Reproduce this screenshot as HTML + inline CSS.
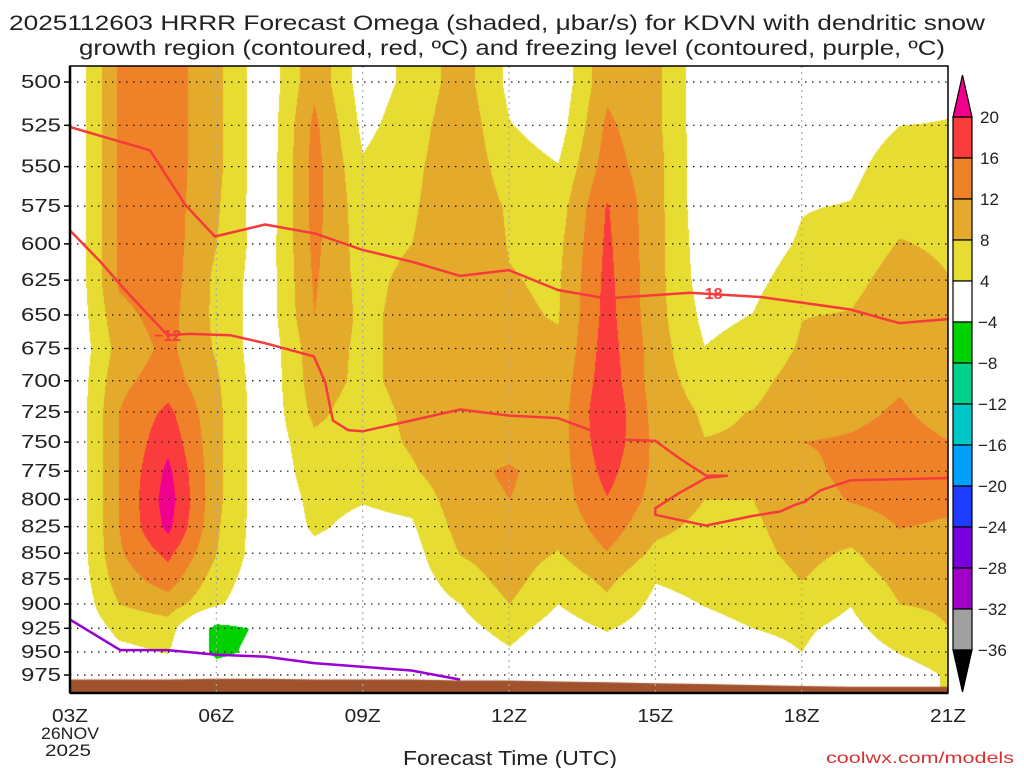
<!DOCTYPE html>
<html><head><meta charset="utf-8"><style>
html,body{margin:0;padding:0;background:#fff;}
#wrap{position:relative;width:1024px;height:768px;overflow:hidden;}
canvas,svg{position:absolute;left:0;top:0;}
text{font-family:"Liberation Sans",sans-serif;fill:#222;}
</style></head><body>
<div id="wrap">
<canvas id="cv" width="1024" height="768"></canvas>
<svg id="sv" width="1024" height="768"></svg>
</div>
<script>
// ---- data ----
const hours = [3,4,5,6,7,8,9,10,11,12,13,14,15,16,17,18,19,20,21];
const levels = [500,525,550,575,600,625,650,675,700,725,750,775,800,825,850,875,900,925,950,975];
const omega3 = [0,0,0,0,0,0,0,0,0,0,0,0,0,0,0,0,0,0,0,0];
const omega4 = [12.5,12.5,12.5,12.5,12.5,12.5,11,9.5,11,12,12,12,12,12,11.5,10,8,5,3,1];
const omega5 = [14,14,14,14,14,14,13.5,13,14,17,19,21,22,21,17,14,10,6,4.2,1];
const omega6 = [9,9,9,8.5,8,7,7,7.5,8.5,9,9,9,9,8.5,8,6,4.5,-6,-5.5,0];
const omega7 = [1,1,1,1,1.5,1.5,1.5,1,1,1,1,1,1,1,1,1,1,-3,-2,0];
const omega8 = [11,13,13.5,13.5,13,12.5,12,10.5,10,9,7,6,5,4.5,3,2,1,0,0,0];
const omega9 = [2,3,4.5,5.5,6,6.5,7,7,7,6,6,5.5,4.2,3,2,1,0.5,0,0,0];
const omega10 = [5,6,7,7.5,8,9.3,9.5,9.5,9.5,9,8.5,7.5,5,3.5,2.5,2,1.5,1,0,0];
const omega11 = [10,11,11,11,11,11,11,11,11,11,11,11,10.5,9.5,8.2,6,4,2.5,1,0];
const omega12 = [3,4.2,6,7.5,7.8,8.2,8.5,9,10,10,10.5,12.5,12,10,10,9.5,8,5.5,3.5,1];
const omega13 = [1,2,4.2,6,7,7.5,7.8,8.5,9.5,10,10,10,10,9,7.8,5.5,4,2,0,0];
const omega14 = [11,12.8,14,16.3,16.8,17.2,17.5,18,18.5,19.5,19,17.5,15.8,14,11.8,9,7,4.3,2,0];
const omega15 = [9,9,9.5,9.5,9.5,9.5,9.5,10,10,10.5,11,11,10.5,9,7,4.2,3,2,1,0];
const omega16 = [1,1,1,1,1.5,2,3,4.1,6,7.5,8.1,8.3,8,7,6,5,4.1,3,1,0];
const omega17 = [1,1,1,1.5,2,3,4.1,5.5,7,8.1,8.3,8.3,8,7.5,7,6,5,4,3,1];
const omega18 = [1,1,2,3.8,4.5,6,7.9,8.5,9.5,10,12,11,10,9.5,9,8.1,6,4.5,4,2];
const omega19 = [1,2,3,4.2,6,7,8.2,9.5,10.5,11,12.5,13,12.3,9.5,7.5,6,4.1,3,2,1];
const omega20 = [2,4,6,7,8.2,9.5,10.5,10.5,11.5,12.5,13.5,13.5,13.5,12.1,10.5,9,8,6,4.1,3];
const omega21 = [3,4.2,6,7,7.5,8.1,9,10,10,10.5,12.1,13,12.8,11.5,10,9,8.5,8,5,4.2];
const omegaCols = [omega3,omega4,omega5,omega6,omega7,omega8,omega9,omega10,omega11,omega12,omega13,omega14,omega15,omega16,omega17,omega18,omega19,omega20,omega21];
const surfacePres = [980,980,980,979,979,980,980,980,981,981,982,983,984,985,986,987,988,988,988];
// contour lines (hour, hPa)
const dgzUpperH = [3,4.64,5.09,5.36,5.97,7.0,8.02,8.99,9.99,11.0,12.0,13.0,13.99,15.71,17.15,18.0,19.0,20.0,21];
const dgzUpperP = [526,540,561,574,595,587,593,604,612,622,618,632,638,634,637,641,646,656,653];
const dgzLowerH = [3,3.62,4.13,4.74,5.0,5.46,6.28,7.0,8.0,8.23,8.39,8.7,9.0,10,11,12,13,13.66,14.38,15,15.5,16.04,16.47,16.04,15.5,15,15,16.04,17,17.56,17.86,18.07,18.38,19,20,21];
const dgzLowerP = [591,612,632,655,665,664,665,671,681,701,732,740,741,732,723,728,730,740,748,749,764,779,779,781,794,808,814,824,815,811,805,802,792,783,782,781];
const frzH = [3,4.03,5,6,7,8,10,11];
const frzP = [916,948,948,953,955,962,970,980];
const cbLevels = [20,16,12,8,4,-4,-8,-12,-16,-20,-24,-28,-32,-36];
const cbColors = ['#fa3c3c','#ef8228','#e3aa2c','#e6dc32','#ffffff','#00d200','#00d28c','#00c8c8','#00a0ff','#1e3cff','#7800dc','#a000c8','#a0a0a0'];
const pTicks = [500,525,550,575,600,625,650,675,700,725,750,775,800,825,850,875,900,925,950,975];
const xTickHours = [3,6,9,12,15,18,21];
const xTickLabels = ['03Z','06Z','09Z','12Z','15Z','18Z','21Z'];

// ---- axes ----
const X0=70, X1=948, Y0=66, Y1=693;
function xOf(h){return 70+(h-3)*(878/18);}
function yOf(p){return 82+888*Math.log(p/500);}
function hOf(x){return 3+(x-70)*18/878;}
function pOf(y){return 500*Math.exp((y-82)/888);}
function colorOf(v){
  if(v>=20) return [240,0,140];
  if(v>=16) return [250,60,60];
  if(v>=12) return [239,130,40];
  if(v>=8) return [227,170,44];
  if(v>=4) return [230,220,50];
  if(v>-4) return null;
  if(v>-8) return [0,210,0];
  return [0,210,140];
}
function valAt(h,p){
  let ci=Math.max(0,Math.min(17.9999,h-3)); let c0=Math.floor(ci), fc=ci-c0;
  let ri=Math.max(0,Math.min(18.9999,(p-500)/25)); let r0=Math.floor(ri), fr=ri-r0;
  const a=omegaCols[c0][r0], b=omegaCols[c0+1][r0], c=omegaCols[c0][r0+1], d=omegaCols[c0+1][r0+1];
  return (a*(1-fc)+b*fc)*(1-fr)+(c*(1-fc)+d*fc)*fr;
}
// ---- shading ----
const cv=document.getElementById('cv'), ctx=cv.getContext('2d');
const img=ctx.createImageData(1024,768);
for(let y=Y0;y<Y1;y++){const p=pOf(y);
  for(let x=X0;x<X1;x++){const c=colorOf(valAt(hOf(x),p)); if(!c) continue;
    const k=(y*1024+x)*4; img.data[k]=c[0];img.data[k+1]=c[1];img.data[k+2]=c[2];img.data[k+3]=255;}}
ctx.putImageData(img,0,0);
// ground
ctx.fillStyle='#a0522d';ctx.beginPath();ctx.moveTo(X0,Y1);
for(let i=0;i<hours.length;i++) ctx.lineTo(xOf(hours[i]),Math.min(Y1,yOf(surfacePres[i])));
ctx.lineTo(X1,Y1);ctx.closePath();ctx.fill();

// ---- svg overlay ----
const NS='http://www.w3.org/2000/svg', sv=document.getElementById('sv');
function mk(tag,attrs,parent){const e=document.createElementNS(NS,tag);for(const k in attrs)e.setAttribute(k,attrs[k]);(parent||sv).appendChild(e);return e;}
// grid
for(const p of pTicks){const y=yOf(p);
  const l=mk('line',{x1:X0,x2:X1,y1:y,y2:y,stroke:'#111','stroke-width':1.2,'stroke-dasharray':'1.5 5.5'});
  
  
  const t=mk('line',{x1:X0-6,x2:X0,y1:y,y2:y,stroke:'#000','stroke-width':1.5});
  
  
  const tx=mk('text',{x:61,y:y+6,'text-anchor':'end','font-size':18,textLength:40,lengthAdjust:'spacingAndGlyphs'});
  tx.textContent=String(p);
  
  
}
for(let i=0;i<xTickHours.length;i++){const x=xOf(xTickHours[i]);
  if(i>0&&i<xTickHours.length-1){const l=mk('line',{x1:x,x2:x,y1:Y0,y2:Y1,stroke:'#aaa','stroke-width':1.2,'stroke-dasharray':'2 4'});
    
    }
  const t=mk('text',{x:x,y:722,'text-anchor':'middle','font-size':18,textLength:36,lengthAdjust:'spacingAndGlyphs'});
  t.textContent=xTickLabels[i];
  
  
}
function path(H,P,color,name){let d='';for(let i=0;i<H.length;i++)d+=(i?'L':'M')+xOf(H[i]).toFixed(1)+','+yOf(P[i]).toFixed(1);
  const e=mk('path',{d:d,fill:'none',stroke:color,'stroke-width':2.5,'stroke-linejoin':'round'});
  
  }
path(dgzUpperH,dgzUpperP,'#f53c3c','dgz-minus18-contour');
path(dgzLowerH,dgzLowerP,'#f53c3c','dgz-minus12-contour');
path(frzH,frzP,'#9a00d2','freezing-level-contour');
function clabel(h,p,s,name){const x=xOf(h),y=yOf(p);
  const t=mk('text',{x:x,y:y+6,'text-anchor':'middle','font-size':16,'font-weight':'bold',style:'fill:#f53c3c'});t.textContent=s;
  
  }
clabel(5.0,665,'−12','contour-label-minus12');
clabel(16.1,634,'−18','contour-label-minus18');
// frame
const fr=mk('rect',{x:X0,y:Y0,width:X1-X0,height:Y1-Y0,fill:'none',stroke:'#000','stroke-width':1.5});


mk('line',{x1:X0,x2:X0,y1:Y0,y2:Y1,stroke:'#000','stroke-width':2.5});
mk('line',{x1:X0,x2:X1,y1:Y1,y2:Y1,stroke:'#000','stroke-width':2.5});
// colorbar
const CBX=953,CBW=19,CBT=117,CBS=41;
for(let i=0;i<cbColors.length;i++){const r=mk('rect',{x:CBX,y:CBT+i*CBS,width:CBW,height:CBS,fill:cbColors[i],stroke:'#000','stroke-width':1.2});
  
  }
const tu=mk('polygon',{points:`${CBX},${CBT} ${CBX+CBW},${CBT} ${CBX+CBW/2},${CBT-42}`,fill:'#f0008c',stroke:'#000','stroke-width':1.2});


const bt=CBT+cbColors.length*CBS;
const td=mk('polygon',{points:`${CBX},${bt} ${CBX+CBW},${bt} ${CBX+CBW/2},${bt+42}`,fill:'#000',stroke:'#000','stroke-width':1.2});


for(let i=0;i<cbLevels.length;i++){const v=cbLevels[i];
  const t=mk('text',{x:v<0?978:980,y:CBT+i*CBS+6,'font-size':17});t.textContent=v<0?'−'+(-v):String(v);
  
  }
</script>
<svg width="1024" height="768" style="position:absolute;left:0;top:0;pointer-events:none">
<text x="497" y="30" text-anchor="middle" font-size="21" textLength="976" lengthAdjust="spacingAndGlyphs">2025112603 HRRR Forecast Omega (shaded, μbar/s) for KDVN with dendritic snow</text>
<text x="512" y="55" text-anchor="middle" font-size="21" textLength="866" lengthAdjust="spacingAndGlyphs">growth region (contoured, red, ºC) and freezing level (contoured, purple, ºC)</text>
<text x="70" y="739" text-anchor="middle" font-size="17" textLength="58" lengthAdjust="spacingAndGlyphs">26NOV</text>
<text x="68" y="756" text-anchor="middle" font-size="17" textLength="46" lengthAdjust="spacingAndGlyphs">2025</text>
<text x="510" y="765" text-anchor="middle" font-size="20" textLength="214" lengthAdjust="spacingAndGlyphs">Forecast Time (UTC)</text>
<text x="1014" y="763" text-anchor="end" font-size="16" textLength="188" lengthAdjust="spacingAndGlyphs" style="fill:#d83030">coolwx.com/models</text>
</svg>
</body></html>
